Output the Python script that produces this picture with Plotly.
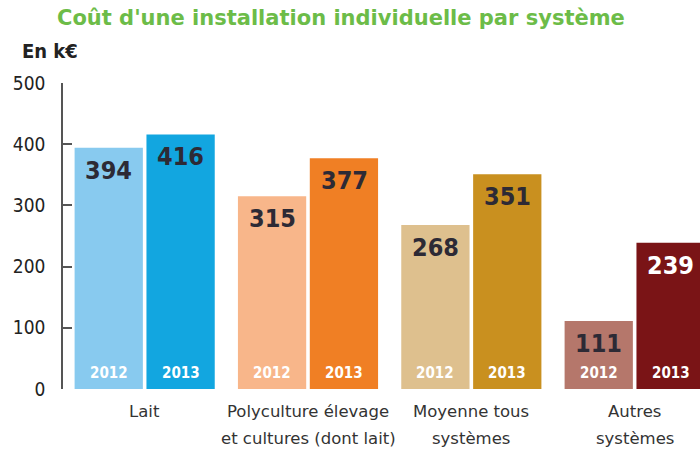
import plotly.graph_objects as go

# ---- data ----
cat_line1 = ["Lait", "Polyculture élevage", "Moyenne tous", "Autres"]
cat_line2 = ["", "et cultures (dont lait)", "systèmes", "systèmes"]
categories = ["Lait", "Polyculture", "Moyenne", "Autres"]
values_2012 = [394, 315, 268, 111]
values_2013 = [416, 377, 351, 239]
years = ["2012", "2013"]
colors_2012 = ["#88caef", "#f8b68a", "#dec08e", "#b5776b"]
colors_2013 = ["#12a6e0", "#f07f24", "#c9901f", "#7a1416"]
label_col_2012 = ["#2d2a35", "#2d2a35", "#2d2a35", "#2d2a35"]
label_col_2013 = ["#2d2a35", "#2d2a35", "#2d2a35", "#ffffff"]
y_ticks = [0, 100, 200, 300, 400, 500]

NUMFONT = "DejaVu Sans Condensed"

fig = go.Figure()
fig.add_trace(go.Bar(x=categories, y=values_2012, name=years[0],
                     marker=dict(color=colors_2012, line=dict(width=0)),
                     hoverinfo="skip"))
fig.add_trace(go.Bar(x=categories, y=values_2013, name=years[1],
                     marker=dict(color=colors_2013, line=dict(width=0)),
                     hoverinfo="skip"))

ann = []
for i, c in enumerate(categories):
    for shift, vals, lcol, yr in [(-36, values_2012, label_col_2012, years[0]),
                                  (36, values_2013, label_col_2013, years[1])]:
        ann.append(dict(x=c, y=vals[i], xref="x", yref="y", text=str(vals[i]),
                        showarrow=False, xshift=shift, yanchor="top", yshift=-6,
                        font=dict(family=NUMFONT, size=25, color=lcol[i], weight="bold")))
        ann.append(dict(x=c, y=0, xref="x", yref="y", text=yr,
                        showarrow=False, xshift=shift, yanchor="bottom", yshift=5,
                        font=dict(family=NUMFONT, size=15, color="#ffffff", weight="bold")))
    ann.append(dict(x=c, y=-0.074, xref="x", yref="paper", text=cat_line1[i],
                    showarrow=False, yanchor="middle",
                    font=dict(family="DejaVu Sans", size=16.5, color="#333333")))
    if cat_line2[i]:
        ann.append(dict(x=c, y=-0.162, xref="x", yref="paper", text=cat_line2[i],
                        showarrow=False, yanchor="middle",
                        font=dict(family="DejaVu Sans", size=16.5, color="#333333")))

# "En k€" unit label, placed in pixel terms relative to the plot area
ann.append(dict(x=(20 - 63) / 637, y=(389 - 51) / 306, xref="paper", yref="paper",
                text="En k€", showarrow=False, xanchor="left", yanchor="middle",
                font=dict(family=NUMFONT, size=20, color="#222222", weight="bold")))

fig.update_layout(
    width=700, height=449,
    margin=dict(l=63, r=0, t=83, b=60),
    paper_bgcolor="white", plot_bgcolor="white",
    barmode="group", bargap=0.12, bargroupgap=0.05,
    showlegend=False,
    title=dict(text="Coût d'une installation individuelle par système",
               x=0.487, xanchor="center", y=1 - 18 / 449, yanchor="middle",
               font=dict(family="DejaVu Sans", size=21, color="#6cbc48", weight="bold")),
    annotations=ann,
    xaxis=dict(range=[-0.5, 3.40], showticklabels=False, ticks="", showline=False,
               showgrid=False, zeroline=False, fixedrange=True),
    yaxis=dict(range=[0, 500], tickvals=y_ticks, ticks="inside", ticklen=9,
               tickwidth=1.5, tickcolor="#555555", showline=True, linecolor="#555555",
               linewidth=1.5, showgrid=False, zeroline=False, ticklabelstandoff=12,
               tickfont=dict(family=NUMFONT, size=19, color="#222222")),
)

fig.write_html("out.html")
